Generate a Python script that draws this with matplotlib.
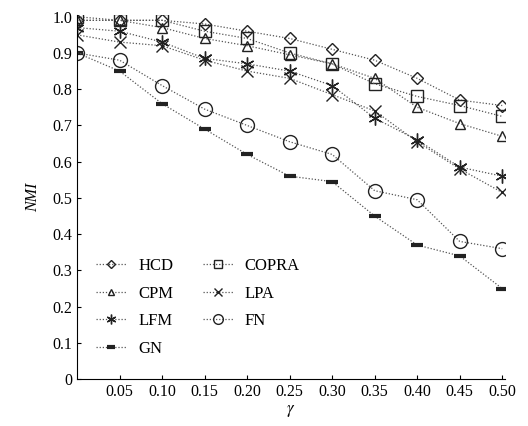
import numpy as np
from matplotlib import pyplot as plt

plt.rcParams['font.family'] = ['Liberation Serif', 'DejaVu Serif']
plt.rcParams['mathtext.fontset'] = 'stix'

gamma = [0.0, 0.05, 0.10, 0.15, 0.20, 0.25, 0.30, 0.35, 0.40, 0.45, 0.50]
hcd = [0.99, 0.99, 0.99, 0.98, 0.96, 0.94, 0.91, 0.88, 0.83, 0.77, 0.755]
cpm = [0.99, 0.99, 0.97, 0.94, 0.92, 0.895, 0.87, 0.83, 0.75, 0.705, 0.67]
lfm = [0.97, 0.96, 0.93, 0.885, 0.87, 0.85, 0.81, 0.72, 0.66, 0.585, 0.56]
gn = [0.90, 0.85, 0.76, 0.69, 0.62, 0.56, 0.545, 0.45, 0.37, 0.34, 0.25]
copra = [1.0, 0.99, 0.99, 0.96, 0.94, 0.90, 0.87, 0.815, 0.78, 0.755, 0.725]
lpa = [0.95, 0.93, 0.92, 0.88, 0.85, 0.83, 0.785, 0.74, 0.655, 0.58, 0.515]
fn = [0.90, 0.88, 0.81, 0.745, 0.70, 0.655, 0.62, 0.52, 0.495, 0.38, 0.36]

series = [
    ("HCD", hcd, dict(marker='D', markersize=6)),
    ("CPM", cpm, dict(marker='^', markersize=7)),
    ("LFM", lfm, dict(marker=(6, 2, 0), markersize=10)),
    ("GN", gn, dict(marker='_', markersize=9, markeredgewidth=3)),
    ("COPRA", copra, dict(marker='s', markersize=8)),
    ("LPA", lpa, dict(marker='x', markersize=8)),
    ("FN", fn, dict(marker='o', markersize=10)),
]

fig = plt.figure(figsize=(5.28, 4.26), dpi=100)
ax = fig.add_axes([0.146, 0.110, 0.81, 0.855])

for name, vals, style in series:
    ax.plot(gamma, vals, color='#555555', linewidth=0.9, linestyle=(0, (1, 1.5)),
            markerfacecolor='none', markeredgecolor='#222222', label=name, **style)

ax.set_xlim(0, 0.503)
ax.set_ylim(0, 1.005)
ax.set_xticks(gamma[1:])
ax.set_xticklabels(["%.2f" % g for g in gamma[1:]])
ax.set_yticks(np.arange(0, 1.01, 0.1))
ax.set_yticklabels(["0"] + ["%.1f" % v for v in np.arange(0.1, 1.01, 0.1)])
ax.tick_params(direction='in', length=3, labelsize=11.5)
ax.spines['top'].set_visible(False)
ax.spines['right'].set_visible(False)
ax.set_xlabel(r'$\gamma$', fontsize=12, labelpad=2)
ax.set_ylabel('NMI', fontsize=11.5, style='italic', labelpad=8)

ax.legend(ncol=2, frameon=False, loc='lower left', bbox_to_anchor=(0.01, 0.02),
          fontsize=12, handlelength=1.8, handletextpad=0.7, columnspacing=1.8,
          labelspacing=0.7, markerscale=0.7)

plt.savefig("out.png")
